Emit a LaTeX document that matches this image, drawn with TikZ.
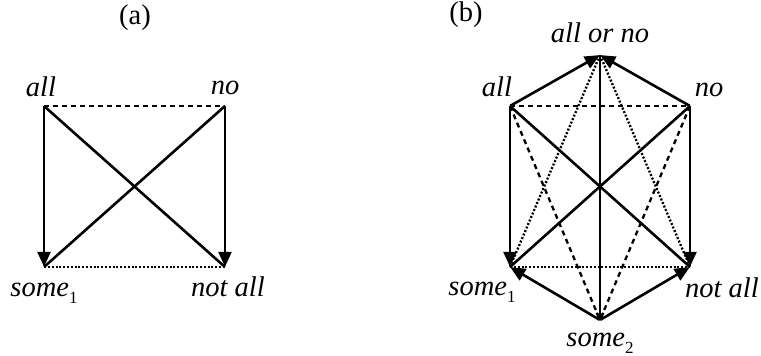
\documentclass[tikz,border=0pt]{standalone}
\usepackage{fontspec}
\setmainfont{Liberation Serif}
\usetikzlibrary{arrows.meta, positioning}
\newcommand{\subidx}[1]{\raisebox{-0.22em}{\fontsize{17}{17}\selectfont\upshape #1}}

\begin{document}
\begin{tikzpicture}[x=1pt, y=-1pt,
    corner/.style={inner sep=0pt, minimum size=0pt},
    lbl/.style={inner sep=0pt, font=\fontsize{28.5}{30}\selectfont\itshape},
    title/.style={inner sep=0pt, font=\fontsize{28.5}{30}\selectfont},
    line/.style={line width=2.6pt},
    arrow/.style={line width=2.6pt, -{Triangle[length=15pt, width=13pt]}},
    contrary/.style={line width=2.3pt, dash pattern=on 5pt off 4pt},
    subcontrary/.style={line width=2.3pt, dash pattern=on 2pt off 1.8pt}
  ]
    \useasboundingbox (0,0) rectangle (761,356);

    % Square (a)
    \node[title] (ta) at (135,18) {(a)};
    \node[corner] (aall) at (44,106) {};
    \node[corner] (ano) at (225,106) {};
    \node[corner] (asome) at (44,267) {};
    \node[corner] (anotall) at (225,267) {};

    \node[lbl, above=9pt of aall, xshift=-3pt] (aallL) {all};
    \node[lbl, above=11pt of ano] (anoL) {no};
    \node[lbl, below=16pt of asome] (asomeL) {some\subidx{1}};
    \node[lbl, below=9pt of anotall, xshift=3pt] (anotallL) {not all};

    \draw[contrary] (aall) -- (ano);
    \draw[subcontrary] (asome) -- (anotall);
    \draw[arrow] (aall) -- (asome);
    \draw[arrow] (ano) -- (anotall);
    \draw[line] (aall) -- (anotall);
    \draw[line] (ano) -- (asome);

    % Hexagon (b)
    \node[title] (tb) at (466,15) {(b)};
    \node[corner] (ballorno) at (600,55) {};
    \node[corner] (ball) at (510,106) {};
    \node[corner] (bno) at (690,106) {};
    \node[corner] (bsome) at (510,267) {};
    \node[corner] (bnotall) at (690,267) {};
    \node[corner] (bsometwo) at (600,320) {};

    \node[lbl, above=12pt of ballorno] (ballornoL) {all or no};
    \node[lbl, above=9pt of ball, xshift=-13pt] (ballL) {all};
    \node[lbl, above=9pt of bno, xshift=19pt] (bnoL) {no};
    \node[lbl, below=15pt of bsome, xshift=-28pt] (bsomeL) {some\subidx{1}};
    \node[lbl, below=10pt of bnotall, xshift=32pt] (bnotallL) {not all};
    \node[lbl, below=13pt of bsometwo] (bsometwoL) {some\subidx{2}};

    \draw[contrary] (ball) -- (bno);
    \draw[contrary] (ball) -- (bsometwo);
    \draw[contrary] (bno) -- (bsometwo);
    \draw[subcontrary] (ballorno) -- (bsome);
    \draw[subcontrary] (ballorno) -- (bnotall);
    \draw[subcontrary] (bsome) -- (bnotall);
    \draw[line] (ball) -- (bnotall);
    \draw[line] (bno) -- (bsome);
    \draw[line, line width=2.2pt, -{Straight Barb[length=5pt, width=7pt]}] (ballorno) -- (bsometwo);
    \draw[arrow] (ball) -- (ballorno);
    \draw[arrow] (bno) -- (ballorno);
    \draw[arrow] (ball) -- (bsome);
    \draw[arrow] (bno) -- (bnotall);
    \draw[arrow] (bsometwo) -- (bsome);
    \draw[arrow] (bsometwo) -- (bnotall);
\end{tikzpicture}
\end{document}
